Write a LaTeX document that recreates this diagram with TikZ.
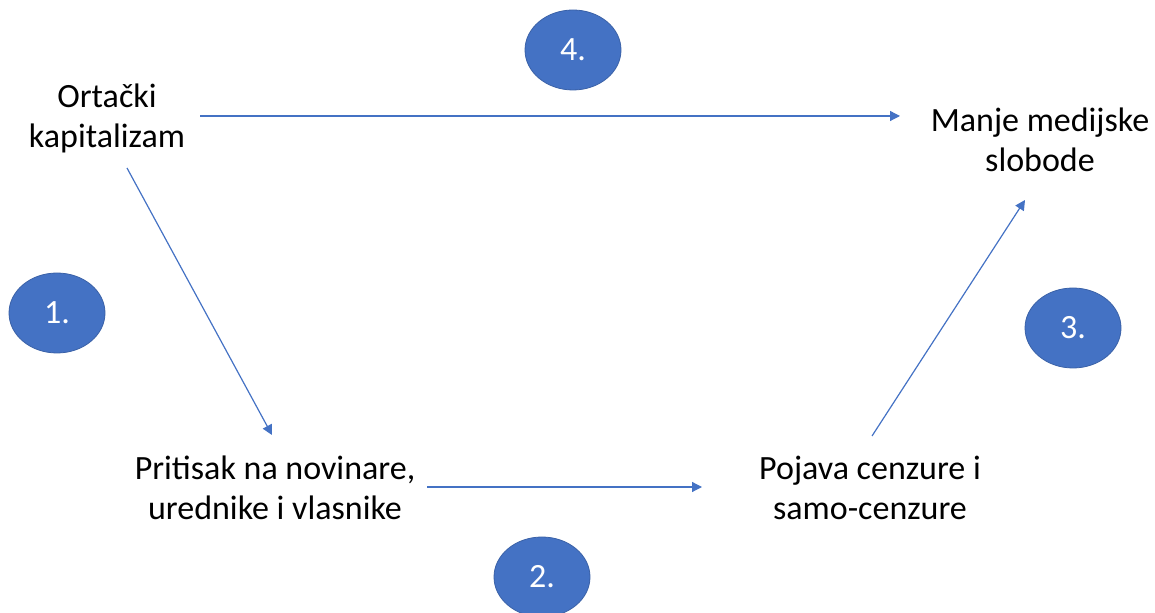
\documentclass[tikz,border=0pt]{standalone}
\usepackage{fontspec}
\setmainfont{Carlito}
\usetikzlibrary{positioning,calc,arrows.meta,shapes.geometric}
\definecolor{steps}{HTML}{4472C4}
\begin{document}
\begin{tikzpicture}[x=0.5pt,y=-0.5pt,
	txt/.style={align=center,font=\fontsize{17}{20}\selectfont},
	num/.style={ellipse,fill=steps,draw=steps!85!black,line width=0.4pt,text=white,minimum width=48pt,minimum height=40pt,inner sep=0pt,font=\fontsize{17}{20}\selectfont},
	arr/.style={steps,line width=0.6pt,-{Triangle[length=5pt,width=5pt]}}]
		\useasboundingbox (0,0) rectangle (1155,613);
		%print the four statements
		\node[txt] (ok) at (107,118) {Ortački\\kapitalizam};
		\node[txt] (mms) at (1040,140) {Manje medijske\\slobode};
		\node[txt] (pn) at (275,488) {Pritisak na novinare,\\urednike i vlasnike};
		\node[txt] (pc) at (870,488) {Pojava cenzure i\\samo-cenzure};
		%arrow ends
		\coordinate (ok-r) at ($(ok)+(93,-2)$);
		\coordinate (mms-l) at ($(mms)+(-140,-24)$);
		\coordinate (ok-b) at ($(ok)+(20,50)$);
		\coordinate (pn-t) at ($(pn)+(-3,-53)$);
		\coordinate (pn-r) at ($(pn)+(152,-1)$);
		\coordinate (pc-l) at ($(pc)+(-168,-1)$);
		\coordinate (pc-t) at ($(pc)+(2,-52)$);
		\coordinate (mms-b) at ($(mms)+(-15,60)$);
		\draw[arr] (ok-r)--(mms-l);
		\draw[arr] (ok-b)--(pn-t);
		\draw[arr] (pn-r)--(pc-l);
		\draw[arr] (pc-t)--(mms-b);
		%print step numbers
		\node[num] (n1) at (57,313) {1.};
		\node[num] (n2) at (542,577) {2.};
		\node[num] (n3) at (1073,328) {3.};
		\node[num] (n4) at (573,50) {4.};
	\end{tikzpicture}
\end{document}
